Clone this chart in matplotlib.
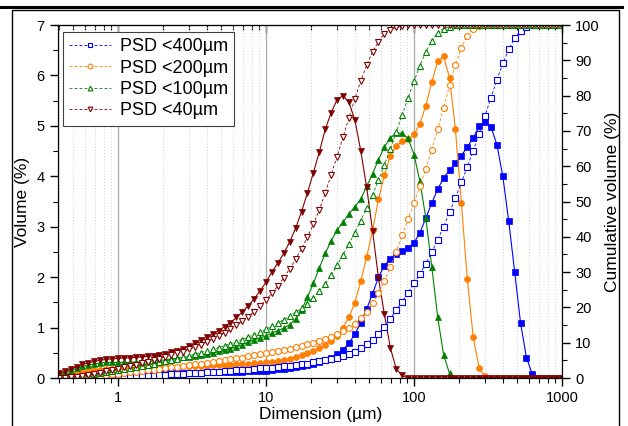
import numpy as np
import matplotlib.pyplot as plt
from matplotlib.lines import Line2D
from matplotlib.patches import Rectangle
from matplotlib.ticker import FixedLocator, LogLocator, NullFormatter, MultipleLocator

plt.rcParams['font.family'] = ['Liberation Sans', 'DejaVu Sans']
plt.rcParams['font.size'] = 10

# size classes (um)
size_um = [0.398, 0.437, 0.479, 0.525, 0.575, 0.631, 0.692, 0.759, 0.832, 0.912,
           1.000, 1.096, 1.202, 1.318, 1.445, 1.585, 1.738, 1.905, 2.089, 2.291,
           2.512, 2.754, 3.020, 3.311, 3.631, 3.981, 4.365, 4.786, 5.248, 5.754,
           6.310, 6.918, 7.586, 8.318, 9.120, 10.00, 10.96, 12.02, 13.18, 14.45,
           15.85, 17.38, 19.05, 20.89, 22.91, 25.12, 27.54, 30.20, 33.11, 36.31,
           39.81, 43.65, 47.86, 52.48, 57.54, 63.10, 69.18, 75.86, 83.18, 91.20,
           100.0, 109.6, 120.2, 131.8, 144.5, 158.5, 173.8, 190.5, 208.9, 229.1,
           251.2, 275.4, 302.0, 331.1, 363.1, 398.1, 436.5, 478.6, 524.8, 575.4,
           631.0, 691.8, 758.6, 831.8, 912.0, 1000.0]

# PSD <400um
vol_400 = [0.01, 0.01, 0.02, 0.02, 0.03, 0.03, 0.04, 0.04, 0.05, 0.05,
           0.06, 0.06, 0.07, 0.07, 0.08, 0.08, 0.08, 0.09, 0.09, 0.09,
           0.10, 0.10, 0.10, 0.10, 0.10, 0.11, 0.11, 0.11, 0.11, 0.12,
           0.12, 0.12, 0.13, 0.13, 0.14, 0.14, 0.15, 0.17, 0.18, 0.20,
           0.22, 0.24, 0.26, 0.28, 0.31, 0.35, 0.40, 0.48, 0.56, 0.69,
           0.87, 1.09, 1.37, 1.67, 2.00, 2.23, 2.36, 2.45, 2.51, 2.58,
           2.68, 2.88, 3.17, 3.47, 3.74, 3.97, 4.12, 4.26, 4.41, 4.58,
           4.76, 4.99, 5.07, 4.98, 4.63, 4.00, 3.11, 2.11, 1.09, 0.40,
           0.07, 0, 0, 0, 0, 0]
cum_400 = [0.0, 0.0, 0.0, 0.0, 0.1, 0.1, 0.1, 0.2, 0.2, 0.3,
           0.3, 0.4, 0.4, 0.5, 0.6, 0.6, 0.7, 0.8, 0.9, 1.0,
           1.1, 1.2, 1.3, 1.4, 1.5, 1.6, 1.7, 1.8, 1.9, 2.0,
           2.2, 2.3, 2.4, 2.5, 2.7, 2.8, 2.9, 3.1, 3.3, 3.4,
           3.6, 3.9, 4.1, 4.4, 4.7, 5.0, 5.3, 5.7, 6.2, 6.8,
           7.5, 8.4, 9.5, 10.8, 12.5, 14.5, 16.8, 19.2, 21.6, 24.2,
           26.8, 29.5, 32.4, 35.6, 39.1, 42.9, 46.9, 51.1, 55.4, 59.8,
           64.4, 69.2, 74.3, 79.4, 84.4, 89.1, 93.1, 96.3, 98.4, 99.5,
           99.9, 100, 100, 100, 100, 100]

# PSD <200um
vol_200 = [0.04, 0.06, 0.08, 0.10, 0.12, 0.14, 0.15, 0.16, 0.17, 0.18,
           0.19, 0.19, 0.20, 0.20, 0.20, 0.21, 0.21, 0.21, 0.22, 0.22,
           0.22, 0.23, 0.23, 0.23, 0.24, 0.24, 0.25, 0.25, 0.26, 0.26,
           0.27, 0.28, 0.28, 0.29, 0.30, 0.31, 0.32, 0.34, 0.36, 0.38,
           0.41, 0.45, 0.49, 0.54, 0.59, 0.65, 0.73, 0.84, 1.00, 1.20,
           1.49, 1.92, 2.40, 2.93, 3.54, 4.03, 4.40, 4.61, 4.69, 4.73,
           4.83, 5.04, 5.40, 5.87, 6.28, 6.38, 5.95, 4.93, 3.48, 1.96,
           0.81, 0.20, 0.03, 0, 0, 0, 0, 0, 0, 0,
           0, 0, 0, 0, 0, 0]
cum_200 = [0.0, 0.0, 0.1, 0.2, 0.3, 0.4, 0.5, 0.7, 0.8, 1.0,
           1.2, 1.4, 1.6, 1.8, 2.0, 2.2, 2.4, 2.6, 2.8, 3.0,
           3.2, 3.4, 3.6, 3.9, 4.1, 4.3, 4.6, 4.8, 5.1, 5.3,
           5.6, 5.8, 6.1, 6.4, 6.7, 7.0, 7.3, 7.6, 7.9, 8.3,
           8.7, 9.1, 9.5, 10.0, 10.5, 11.1, 11.7, 12.5, 13.3, 14.3,
           15.4, 16.9, 18.8, 21.2, 24.0, 27.5, 31.5, 35.8, 40.4, 45.0,
           49.6, 54.4, 59.3, 64.7, 70.4, 76.6, 82.9, 88.7, 93.6, 97.0,
           98.9, 99.7, 99.9, 100, 100, 100, 100, 100, 100, 100,
           100, 100, 100, 100, 100, 100]

# PSD <100um
vol_100 = [0.07, 0.11, 0.15, 0.19, 0.23, 0.26, 0.28, 0.30, 0.31, 0.31,
           0.31, 0.31, 0.31, 0.32, 0.32, 0.33, 0.34, 0.35, 0.36, 0.38,
           0.39, 0.41, 0.42, 0.44, 0.46, 0.47, 0.50, 0.53, 0.55, 0.58,
           0.62, 0.66, 0.71, 0.76, 0.79, 0.84, 0.89, 0.94, 0.99, 1.06,
           1.17, 1.35, 1.60, 1.88, 2.18, 2.47, 2.72, 2.93, 3.09, 3.25,
           3.40, 3.54, 3.80, 4.05, 4.33, 4.58, 4.76, 4.86, 4.85, 4.75,
           4.43, 3.90, 3.17, 2.21, 1.21, 0.46, 0.09, 0, 0, 0,
           0, 0, 0, 0, 0, 0, 0, 0, 0, 0,
           0, 0, 0, 0, 0, 0]
cum_100 = [0.0, 0.1, 0.2, 0.3, 0.5, 0.8, 1.0, 1.3, 1.6, 1.9,
           2.2, 2.5, 2.8, 3.1, 3.5, 3.8, 4.1, 4.5, 4.8, 5.2,
           5.5, 5.9, 6.3, 6.8, 7.2, 7.7, 8.1, 8.6, 9.2, 9.7,
           10.3, 10.9, 11.6, 12.3, 13.0, 13.8, 14.7, 15.6, 16.5, 17.5,
           18.6, 19.7, 21.1, 22.7, 24.6, 26.7, 29.2, 31.9, 34.9, 37.9,
           41.2, 44.6, 48.1, 51.9, 56.0, 60.3, 64.9, 69.7, 74.5, 79.4,
           84.1, 88.5, 92.4, 95.6, 97.8, 99.0, 99.5, 100, 100, 100,
           100, 100, 100, 100, 100, 100, 100, 100, 100, 100,
           100, 100, 100, 100, 100, 100]

# PSD <40um
vol_40 = [0.09, 0.13, 0.18, 0.22, 0.27, 0.30, 0.33, 0.35, 0.37, 0.38,
          0.39, 0.40, 0.40, 0.41, 0.42, 0.43, 0.44, 0.46, 0.48, 0.51,
          0.54, 0.58, 0.63, 0.69, 0.76, 0.81, 0.87, 0.94, 1.02, 1.10,
          1.20, 1.31, 1.43, 1.57, 1.73, 1.90, 2.10, 2.28, 2.47, 2.70,
          2.97, 3.30, 3.67, 4.07, 4.48, 4.93, 5.26, 5.52, 5.60, 5.47,
          5.12, 4.51, 3.78, 2.92, 1.98, 1.26, 0.60, 0.18, 0.05, 0,
          0, 0, 0, 0, 0, 0, 0, 0, 0, 0,
          0, 0, 0, 0, 0, 0, 0, 0, 0, 0,
          0, 0, 0, 0, 0, 0]
cum_40 = [0.0, 0.1, 0.2, 0.4, 0.6, 0.9, 1.2, 1.5, 1.9, 2.2,
          2.6, 3.0, 3.4, 3.8, 4.2, 4.6, 5.1, 5.5, 6.0, 6.5,
          7.0, 7.5, 8.1, 8.7, 9.4, 10.2, 11.0, 11.8, 12.8, 13.8,
          14.9, 16.1, 17.4, 18.8, 20.4, 22.1, 24.0, 26.1, 28.4, 30.9,
          33.6, 36.6, 39.9, 43.5, 47.6, 52.4, 57.6, 62.7, 68.2, 73.6,
          79.1, 84.1, 88.7, 92.4, 95.3, 97.5, 98.6, 99.3, 99.7, 100,
          100, 100, 100, 100, 100, 100, 100, 100, 100, 100,
          100, 100, 100, 100, 100, 100, 100, 100, 100, 100,
          100, 100, 100, 100, 100, 100]

labels = ['PSD <400µm', 'PSD <200µm', 'PSD <100µm', 'PSD <40µm']
vol_list = [vol_400, vol_200, vol_100, vol_40]
cum_list = [cum_400, cum_200, cum_100, cum_40]
colors = ['#0000ff', '#ff7f00', '#008000', '#800000']
marks = ['s', 'o', '^', 'v']

fig = plt.figure(figsize=(6.28, 4.26), dpi=100)
ax = fig.add_axes([58/628, 1-378/426, (562-58)/628, (378-25)/426])
ax2 = ax.twinx()

# outer frame of the original figure
fig.add_artist(Line2D([0, 622/628], [1-7/426, 1-7/426], color='black', lw=2.2,
                      transform=fig.transFigure))
fig.add_artist(Rectangle((12/628, -0.2), (619-12)/628, 1.2-10/426, fill=False,
                         ec='black', lw=1.0, transform=fig.transFigure))

for i in range(4):
    ax.plot(size_um, vol_list[i], '-', marker=marks[i], color=colors[i],
            ms=4.3, lw=0.8, mew=0.5)
    ax2.plot(size_um, cum_list[i], linestyle=(0, (3.5, 2.5)), marker=marks[i],
             color=colors[i], mfc='white', mec=colors[i], ms=4.3, mew=0.8,
             lw=0.6, label=labels[i])

ax.set_xscale('log')
ax.set_xlim(0.393, 1000)
ax.set_ylim(0, 7)
ax2.set_ylim(0, 100)

ax.xaxis.set_major_locator(FixedLocator([1, 10, 100, 1000]))
ax.set_xticklabels(['1', '10', '100', '1000'])
ax.xaxis.set_minor_locator(LogLocator(base=10, subs=np.arange(2, 10)))
ax.xaxis.set_minor_formatter(NullFormatter())
ax.yaxis.set_major_locator(MultipleLocator(1))
ax.yaxis.set_minor_locator(MultipleLocator(0.5))
ax2.yaxis.set_major_locator(MultipleLocator(10))
ax2.yaxis.set_minor_locator(MultipleLocator(5))

ax.tick_params(which='major', direction='out', length=6, width=1, labelsize=10.5)
ax.tick_params(which='minor', direction='out', length=3.5, width=0.8)
ax2.tick_params(which='major', direction='out', length=6, width=1, labelsize=10.5)
ax2.tick_params(which='minor', direction='out', length=3.5, width=0.8)

top = ax.secondary_xaxis('top')
top.xaxis.set_major_locator(FixedLocator([1, 10, 100, 1000]))
top.xaxis.set_minor_locator(LogLocator(base=10, subs=np.arange(2, 10)))
top.tick_params(which='major', direction='in', length=6, width=1, labeltop=False)
top.tick_params(which='minor', direction='in', length=3.5, width=0.8)

ax.grid(True, which='major', axis='x', color='#a8a8a8', lw=0.9, ls='-')
ax.grid(True, which='minor', axis='x', color='#d0d0d0', lw=0.7, ls=(0, (1, 2)))

ax.set_xlabel('Dimension (µm)', fontsize=12.5)
ax.xaxis.set_label_coords(0.522, -0.082)
ax.set_ylabel('Volume (%)', fontsize=12.5, labelpad=5)
ax2.set_ylabel('Cumulative volume (%)', fontsize=12.5, labelpad=4)

leg = ax2.legend(loc='upper left', bbox_to_anchor=(0.01, 0.98), borderaxespad=0,
                 fontsize=13, numpoints=1, handlelength=2.3, handletextpad=0.5,
                 labelspacing=0.24, fancybox=False, framealpha=1,
                 edgecolor='#404040', borderpad=0.35, markerscale=0.8)
leg.get_frame().set_linewidth(0.8)

fig.savefig('out.png', dpi=100)
